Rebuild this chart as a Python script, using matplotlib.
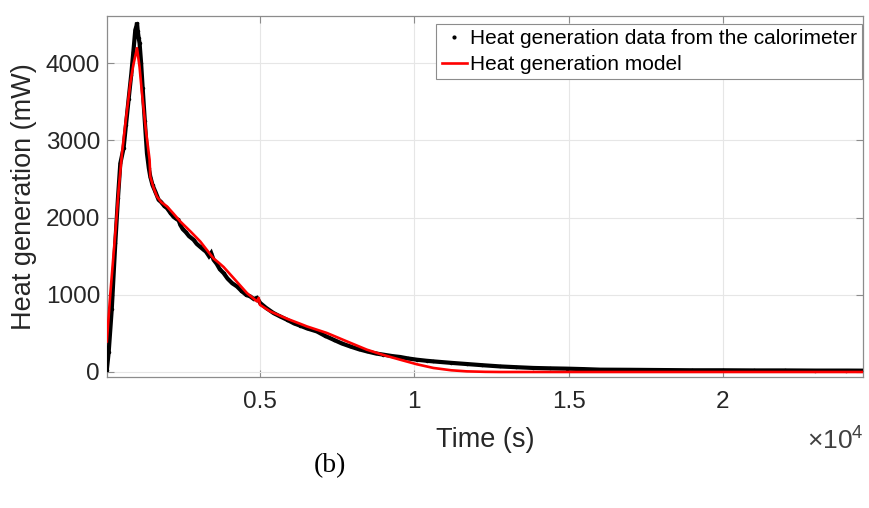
"""
Heat generation: calorimeter data vs model
"""

import matplotlib
matplotlib.use("Agg")
import matplotlib.pyplot as plt
from matplotlib.lines import Line2D

plt.rcParams['font.family'] = ['Liberation Sans', 'DejaVu Sans']
plt.rcParams['mathtext.fontset'] = 'custom'
plt.rcParams['mathtext.rm'] = 'Liberation Sans'

# Calorimeter data (time in s, heat in mW)
data_time = [40, 100, 200, 314, 400, 476, 583, 660, 745, 830, 900, 962, 1000, 1017,
             1040, 1070, 1101, 1150, 1200, 1270, 1340, 1400, 1447, 1520, 1609, 1717,
             1800, 1900, 1988, 2100, 2200, 2300, 2360, 2419, 2500, 2600, 2700, 2850,
             2950, 3050, 3174, 3250, 3350, 3420, 3498, 3600, 3700, 3822, 3950, 4100,
             4255, 4400, 4550, 4687, 4800, 4903, 5010, 5200, 5440, 5650, 5875, 6100,
             6308, 6522, 6846, 7100, 7384, 7650, 7924, 8200, 8464, 8750, 9003, 9300,
             9543, 9800, 10083, 10400, 10622, 11200, 11702, 12200, 12781, 13300, 13862,
             14400, 14942, 15500, 16022, 17000, 18000, 19000, 20000, 21000, 22000,
             23000, 24000, 24600]
data_heat = [30, 260, 820, 1670, 2250, 2700, 2900, 3200, 3530, 3850, 4150, 4430, 4480, 4524,
             4420, 4330, 4257, 4000, 3680, 3250, 2830, 2640, 2531, 2420, 2337, 2230,
             2200, 2150, 2122, 2060, 2010, 1980, 1970, 1906, 1850, 1810, 1760, 1712,
             1660, 1625, 1583, 1560, 1500, 1540, 1453, 1400, 1330, 1281, 1210, 1150,
             1108, 1050, 1000, 978, 945, 960, 893, 830, 763, 720, 677, 630,
             599, 565, 525, 470, 418, 370, 331, 295, 267, 240, 224, 205,
             194, 175, 159, 145, 137, 118, 103, 88, 72, 62, 52,
             47, 43, 37, 30, 28, 25, 22, 22, 20, 20,
             18, 18, 17]

# Heat generation model
model_time = [40, 150, 314, 420, 531, 650, 800, 900, 1017, 1100, 1178, 1300, 1425,
              1447, 1550, 1663, 1800, 1988, 2200, 2419, 2750, 3067, 3300, 3498, 3650,
              3822, 4146, 4579, 4903, 4960, 5000, 5335, 5875, 6300, 6522, 7170, 7818,
              8464, 9000, 9543, 10083, 10622, 11200, 11702, 12300, 12781, 18000, 24600]
model_heat = [396, 1000, 1799, 2350, 2833, 3250, 3740, 3980, 4193, 3950, 3610, 3150, 2747,
              2531, 2390, 2272, 2200, 2144, 2050, 1949, 1820, 1690, 1570, 1470, 1420,
              1360, 1216, 1022, 914, 960, 870, 784, 690, 625, 590, 505, 396,
              289, 220, 159, 100, 52, 22, 8, 2, 0, 0, 0]

XTICKS = [5000, 10000, 15000, 20000]
XTICK_LABELS = ['0.5', '1', '1.5', '2']
YTICKS = [0, 1000, 2000, 3000, 4000]
YTICK_LABELS = ['0', '1000', '2000', '3000', '4000']


def main():
    fig = plt.figure(figsize=(8.69, 5.08), dpi=100)
    ax = fig.add_axes([107 / 869, 1 - 377 / 508, (863 - 107) / 869, (377 - 16) / 508])

    ax.plot(data_time, data_heat, color='black', linewidth=3.0, solid_joinstyle='miter', zorder=3)
    ax.plot(data_time, data_heat, linestyle='none', marker='.', markersize=3, color='black', zorder=3)
    ax.plot(model_time, model_heat, color='#ff0000', linewidth=1.9, zorder=4)

    ax.set_xlim(45, 24540)
    ax.set_ylim(-65, 4610)
    ax.set_xticks(XTICKS)
    ax.set_xticklabels(XTICK_LABELS)
    ax.set_yticks(YTICKS)
    ax.set_yticklabels(YTICK_LABELS)

    ax.grid(True, color='#e6e6e6', linewidth=0.8)
    ax.set_axisbelow(True)
    for s in ax.spines.values():
        s.set_color('#8c8c8c')
        s.set_linewidth(0.9)
    ax.tick_params(direction='in', length=5, width=0.8, color='#8c8c8c',
                   labelsize=17.5, labelcolor='#262626', top=True, right=True)
    ax.tick_params(axis='x', pad=10)
    ax.tick_params(axis='y', pad=5)

    ax.set_xlabel('Time (s)', fontsize=19.5, color='#262626', labelpad=10)
    ax.set_ylabel('Heat generation (mW)', fontsize=19.5, color='#262626', labelpad=6)

    fig.text(864 / 869, 1 - 450 / 508, r'$\times\mathregular{10^{4}}$', fontsize=19,
             color='#404040', ha='right', va='baseline')
    fig.text(330 / 869, 1 - 466 / 508, '(b)', family='Liberation Serif', fontsize=20,
             color='black', ha='center', va='center')

    handles = [
        Line2D([], [], color='black', marker='.', markersize=4, linestyle='none'),
        Line2D([], [], color='#ff0000', linewidth=1.9),
    ]
    leg = ax.legend(handles, ['Heat generation data from the calorimeter', 'Heat generation model'],
                    loc='upper right', bbox_to_anchor=(862 / 869, 1 - 24 / 508),
                    bbox_transform=fig.transFigure, borderaxespad=0, fontsize=15,
                    handlelength=1.2, handletextpad=0.15, borderpad=0.25, labelspacing=0.32,
                    fancybox=False, framealpha=1)
    leg.get_frame().set_edgecolor('#8c8c8c')
    leg.get_frame().set_linewidth(0.8)

    fig.savefig('out.png', dpi=100)


if __name__ == "__main__":
    main()
